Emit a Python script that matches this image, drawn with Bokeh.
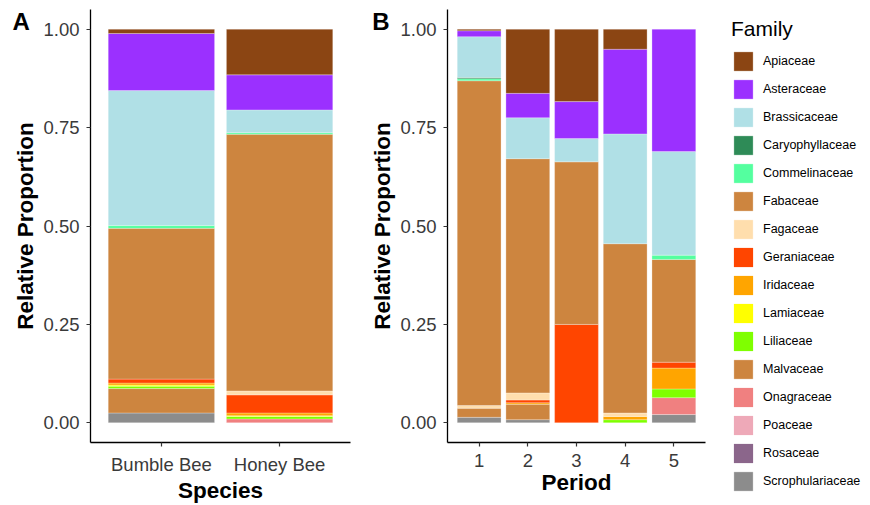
from bokeh.plotting import figure
from bokeh.models import ColumnDataSource, Range1d, FixedTicker, Legend, LegendItem, Label
from bokeh.layouts import row
from bokeh.embed import file_html
from bokeh.resources import INLINE

FONT = "Liberation Sans"

families = ["Apiaceae", "Asteraceae", "Brassicaceae", "Caryophyllaceae", "Commelinaceae",
            "Fabaceae", "Fagaceae", "Geraniaceae", "Iridaceae", "Lamiaceae", "Liliaceae",
            "Malvaceae", "Onagraceae", "Poaceae", "Rosaceae", "Scrophulariaceae"]
colors = ["#8B4513", "#9B30FF", "#B0E0E6", "#2E8B57", "#54FF9F",
          "#CD853F", "#FFDEAD", "#FF4500", "#FFA500", "#FFFF00", "#7FFF00",
          "#CD853F", "#F08080", "#EEA9B8", "#8B668B", "#8C8C8C"]

species = ["Bumble Bee", "Honey Bee"]
bumble_bee = [0.011, 0.145, 0.343, 0.0, 0.007, 0.383, 0.0, 0.010, 0.005, 0.003, 0.006, 0.062, 0.0, 0.0, 0.0, 0.025]
honey_bee = [0.116, 0.089, 0.058, 0.0, 0.004, 0.652, 0.010, 0.046, 0.007, 0.002, 0.006, 0.0, 0.010, 0.0, 0.0, 0.0]

periods = ["1", "2", "3", "4", "5"]
period_1 = [0.004, 0.015, 0.104, 0.003, 0.005, 0.825, 0.007, 0.0, 0.0, 0.0, 0.0, 0.023, 0.0, 0.0, 0.0, 0.014]
period_2 = [0.163, 0.062, 0.104, 0.0, 0.0, 0.595, 0.018, 0.007, 0.004, 0.0, 0.0, 0.039, 0.0, 0.0, 0.0, 0.008]
period_3 = [0.184, 0.094, 0.059, 0.0, 0.0, 0.413, 0.0, 0.250, 0.0, 0.0, 0.0, 0.0, 0.0, 0.0, 0.0, 0.0]
period_4 = [0.051, 0.215, 0.279, 0.0, 0.0, 0.430, 0.009, 0.0, 0.008, 0.0, 0.008, 0.0, 0.0, 0.0, 0.0, 0.0]
period_5 = [0.0, 0.311, 0.263, 0.0, 0.011, 0.261, 0.0, 0.015, 0.053, 0.0, 0.022, 0.0, 0.043, 0.0, 0.0, 0.021]

y_ticks = [0, 0.25, 0.5, 0.75, 1.0]
y_tick_labels = ["0.00", "0.25", "0.50", "0.75", "1.00"]

H = 505


def style_fig(p, xlabel, xticks, xlabels):
    p.outline_line_color = None
    p.xgrid.visible = False
    p.ygrid.visible = False
    p.background_fill_color = "white"
    p.border_fill_color = "white"
    for ax in (p.xaxis[0], p.yaxis[0]):
        ax.axis_line_color = "black"
        ax.axis_line_width = 1.3
        ax.major_tick_line_color = "#333333"
        ax.major_tick_line_width = 1.2
        ax.major_tick_out = 4
        ax.major_tick_in = 0
        ax.minor_tick_line_color = None
        ax.major_label_text_font = FONT
        ax.major_label_text_font_size = "18.5px"
        ax.major_label_text_color = "#3a3a3a"
        ax.axis_label_text_font = FONT
        ax.axis_label_text_font_size = "22.5px"
        ax.axis_label_text_font_style = "bold"
        ax.axis_label_text_color = "black"
    p.xaxis[0].major_label_standoff = 7
    p.xaxis[0].axis_label_standoff = 0
    p.yaxis[0].major_label_standoff = 7
    p.yaxis[0].axis_label_standoff = 2
    p.yaxis[0].ticker = FixedTicker(ticks=y_ticks)
    p.yaxis[0].major_label_overrides = {t: l for t, l in zip(y_ticks, y_tick_labels)}
    p.yaxis[0].axis_label = "Relative Proportion"
    p.xaxis[0].ticker = FixedTicker(ticks=xticks)
    p.xaxis[0].major_label_overrides = {t: l for t, l in zip(xticks, xlabels)}
    p.xaxis[0].axis_label = xlabel


def draw_stack(p, columns):
    """columns: list of per-bar value lists (ordered like families); stacked bottom-up
    from the last family to the first."""
    n = len(columns)
    xs = list(range(1, n + 1))
    bottoms = [0.0] * n
    renderers = {}
    for fam_i in reversed(range(len(families))):
        vals = [columns[j][fam_i] for j in range(n)]
        tops = [b + v for b, v in zip(bottoms, vals)]
        src = ColumnDataSource(dict(x=xs, bottom=list(bottoms), top=tops,
                                    la=[0.55 if v > 0 else 0.0 for v in vals]))
        r = p.vbar(x="x", bottom="bottom", top="top", width=0.9, source=src,
                   fill_color=colors[fam_i], line_color="white", line_width=0.5, line_alpha="la")
        renderers[families[fam_i]] = r
        bottoms = tops
    return renderers


def panel_label(text, x):
    return Label(x=x, y=1.019, x_units="data", y_units="data", text=text, text_font=FONT,
                 text_font_size="24px", text_font_style="bold", text_color="black",
                 text_baseline="alphabetic", text_align="left")


# Panel A
pA = figure(width=367, height=H, x_range=Range1d(0.4, 2.6), y_range=Range1d(-0.05, 1.05),
            output_backend="svg", toolbar_location=None,
            min_border_left=90, min_border_right=15, min_border_top=9, min_border_bottom=61)
style_fig(pA, "Species", [1, 2], species)
draw_stack(pA, [bumble_bee, honey_bee])
pA.add_layout(panel_label("A", -0.26), "right")

# Panel B
pB = figure(width=356, height=H, x_range=Range1d(0.35, 5.65), y_range=Range1d(-0.05, 1.05),
            output_backend="svg", toolbar_location=None,
            min_border_left=79, min_border_right=18, min_border_top=9, min_border_bottom=61)
style_fig(pB, "Period", [1, 2, 3, 4, 5], periods)
draw_stack(pB, [period_1, period_2, period_3, period_4, period_5])
pB.add_layout(panel_label("B", -1.196), "right")

# Legend panel (its renderers carry the period data but are hidden)
pC = figure(width=147, height=H, x_range=Range1d(0, 1), y_range=Range1d(0, 1),
            output_backend="svg", toolbar_location=None,
            x_axis_location=None, y_axis_location=None,
            min_border_left=0, min_border_right=0, min_border_top=9, min_border_bottom=61)
pC.outline_line_color = None
pC.xgrid.visible = False
pC.ygrid.visible = False
rC = draw_stack(pC, [period_1, period_2, period_3, period_4, period_5])
for r in rC.values():
    r.visible = False

items = [LegendItem(label=fam, renderers=[rC[fam]]) for fam in families]
legend = Legend(items=items, location="top_left", title="Family",
                title_text_font=FONT, title_text_font_size="21px", title_text_font_style="normal",
                title_text_color="black", title_standoff=8,
                label_text_font=FONT, label_text_font_size="12.5px", label_text_color="black",
                glyph_width=24, glyph_height=24, label_height=24, spacing=4, label_standoff=8,
                padding=0, margin=8, border_line_color=None, background_fill_alpha=0,
                inactive_fill_alpha=0)
pC.add_layout(legend, "left")

layout = row(pA, pB, pC)
open("out.html", "w").write(file_html(layout, INLINE))
